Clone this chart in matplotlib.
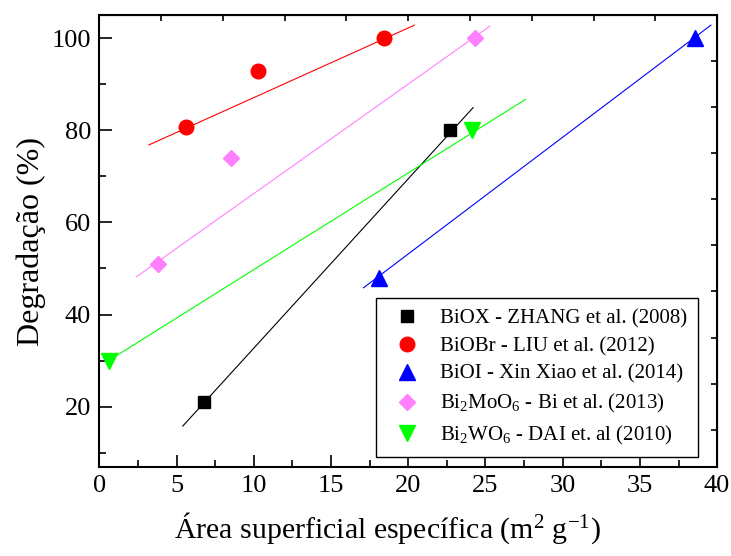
import matplotlib
matplotlib.use("Agg")
import matplotlib.pyplot as plt
from matplotlib.ticker import MultipleLocator

plt.rcParams["font.family"] = ["Liberation Serif", "DejaVu Serif"]
plt.rcParams["mathtext.default"] = "regular"

# measured points (area m2/g, degradation %)
labels = [
    "BiOX - ZHANG et al. (2008)",
    "BiOBr - LIU et al. (2012)",
    "BiOI - Xin Xiao et al. (2014)",
    "Bi$_2$MoO$_6$ - Bi et al. (2013)",
    "Bi$_2$WO$_6$ - DAI et. al (2010)",
]
area = [
    [6.8, 22.7],
    [5.6, 10.3, 18.4],
    [18.1, 38.6],
    [3.8, 8.5, 24.3],
    [0.6, 24.1],
]
degr = [
    [21, 80],
    [80.6, 92.9, 100],
    [48, 100],
    [51, 74, 100],
    [30, 80],
]
# trend line ends
fit_x = [[5.4, 24.2], [3.2, 20.4], [17.1, 39.6], [2.4, 25.3], [0.6, 27.6]]
fit_y = [[15.8, 84.9], [76.8, 102.8], [45.8, 102.8], [48.2, 102.6], [30.0, 86.7]]

colors = ["black", "#ff0000", "#0000ff", "#ff80ff", "#00ff00"]
markers = ["s", "o", "^", "D", "v"]
msizes = [9, 10.5, 12, 8.5, 12]

fig = plt.figure(figsize=(7.31, 5.56), dpi=100)
ax = fig.add_axes([0.136, 0.160, 0.845, 0.813])

for i in range(len(labels)):
    ax.plot(fit_x[i], fit_y[i], color=colors[i], lw=0.8)
    ax.plot(area[i], degr[i], ls="none", marker=markers[i], ms=msizes[i],
            color=colors[i], label=labels[i])

ax.set_xlim(0, 40)
ax.set_ylim(6.9, 105)
ax.xaxis.set_major_locator(MultipleLocator(5))
ax.xaxis.set_minor_locator(MultipleLocator(2.5))
ax.set_yticks([20, 40, 60, 80, 100])
ax.set_yticks([10, 30, 50, 70, 90], minor=True)
ax.tick_params(which="major", direction="in", length=9, width=1.2, labelsize=19, pad=6)
ax.tick_params(which="minor", direction="in", length=5, width=1.2)
for s in ax.spines.values():
    s.set_linewidth(1.5)

top = ax.secondary_xaxis("top")
top.set_xticks(range(4, 40, 4))
top.tick_params(direction="in", length=4, width=1.2, labeltop=False)
right = ax.secondary_yaxis("right")
right.set_yticks(range(15, 100, 10))
right.tick_params(direction="in", length=4, width=1.2, labelright=False)

ax.set_xlabel("Área superficial específica (m$^2$ g$^{-1}$)", fontsize=21.5)
ax.xaxis.set_label_coords(0.467, -0.095)
ax.set_ylabel("Degradação (%)", fontsize=23, labelpad=4)

leg = ax.legend(loc="lower right", bbox_to_anchor=(0.969, 0.022), borderaxespad=0,
                fontsize=15, frameon=True, fancybox=False, edgecolor="black",
                framealpha=1, handlelength=2.0, handletextpad=0.6,
                labelspacing=0.4, borderpad=0.5)
leg.get_frame().set_linewidth(1.0)

fig.savefig("out.png", dpi=100)
